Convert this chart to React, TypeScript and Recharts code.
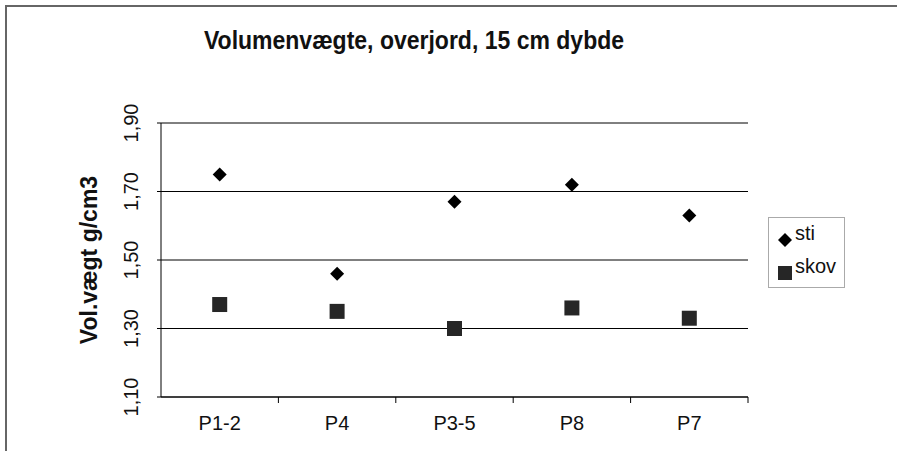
import { ComposedChart, Scatter, XAxis, YAxis, CartesianGrid } from "recharts";

const categories = ["P1-2", "P4", "P3-5", "P8", "P7"];
const stiValues = [1.75, 1.46, 1.67, 1.72, 1.63];
const skovValues = [1.37, 1.35, 1.3, 1.36, 1.33];
const yTicks = [1.1, 1.3, 1.5, 1.7, 1.9];

const data = categories.map((cat, i) => ({ cat, sti: stiValues[i], skov: skovValues[i] }));

const W = 897;
const H = 451;
const margin = { top: 123, right: 149, bottom: 0, left: 0 };
const Y_AXIS_W = 161;
const X_AXIS_H = 54;
const plotW = W - Y_AXIS_W - margin.right;
const step = plotW / categories.length;
const font = "'Liberation Sans', Arial, sans-serif";

const fmt = (v: number) => v.toFixed(2).replace(".", ",");

function Diamond(props: any) {
  const { cx, cy } = props;
  const r = 7;
  return <polygon points={`${cx},${cy - r} ${cx + r},${cy} ${cx},${cy + r} ${cx - r},${cy}`} fill="#000" />;
}

function Square(props: any) {
  const { cx, cy } = props;
  const s = 15;
  return <rect x={cx - s / 2} y={cy - s / 2} width={s} height={s} fill="#262626" />;
}

function YTick(props: any) {
  const { x, y, payload } = props;
  const bx = x - 19;
  return (
    <text x={bx} y={y} transform={`rotate(-90, ${bx}, ${y})`} textAnchor="middle" fontSize={20} fontFamily={font} fill="#111">
      {fmt(payload.value)}
    </text>
  );
}

function XTick(props: any) {
  const { x, payload } = props;
  const axisY = H - X_AXIS_H;
  return (
    <g>
      <text x={x} y={axisY + 33} textAnchor="middle" fontSize={20} fontFamily={font} fill="#111">
        {payload.value}
      </text>
      <line x1={x + step / 2} x2={x + step / 2} y1={axisY} y2={axisY + 6} stroke="#000" />
    </g>
  );
}

function LegendBox() {
  const row = { display: "flex", alignItems: "center", height: 33, fontSize: 20, fontFamily: font, color: "#111" } as const;
  return (
    <div style={{ position: "absolute", left: 768, top: 217, border: "1px solid #aaa", width: 77, height: 71, boxSizing: "border-box", padding: "1px 0 0 8px", background: "#fff" }}>
      <div style={row}>
        <svg width={16} height={16} style={{ marginTop: 8 }}>
          <polygon points="8,1 15,8 8,15 1,8" fill="#000" />
        </svg>
        <span style={{ marginLeft: 2, marginTop: -4 }}>sti</span>
      </div>
      <div style={row}>
        <svg width={16} height={16} style={{ marginTop: 8 }}>
          <rect x={1} y={1} width={14} height={14} fill="#262626" />
        </svg>
        <span style={{ marginLeft: 2, marginTop: -4 }}>skov</span>
      </div>
    </div>
  );
}

export default function App() {
  return (
    <div style={{ position: "absolute", left: 0, top: 0, width: W, height: H, background: "#fff", overflow: "hidden" }}>
      <div style={{ position: "absolute", left: 5, top: 5, width: W, height: H, borderTop: "2px solid #666", borderLeft: "2px solid #666" }} />
      <div style={{ position: "absolute", left: 0, top: 27, width: 828, textAlign: "center", fontFamily: font, fontWeight: "bold", fontSize: 23, color: "#111", transform: "scaleY(1.15)" }}>
        Volumenvægte, overjord, 15 cm dybde
      </div>
      <ComposedChart width={W} height={H} data={data} margin={margin} style={{ position: "absolute", left: 0, top: 0 }}>
        <CartesianGrid vertical={false} stroke="#000" strokeWidth={1} />
        <XAxis
          dataKey="cat"
          type="category"
          scale="band"
          height={X_AXIS_H}
          axisLine={{ stroke: "#000" }}
          tickLine={false}
          tick={<XTick />}
          interval={0}
        />
        <YAxis
          domain={[1.1, 1.9]}
          ticks={yTicks}
          width={Y_AXIS_W}
          axisLine={{ stroke: "#000" }}
          tickLine={{ stroke: "#000" }}
          tickSize={4}
          tickMargin={0}
          tick={<YTick />}
          label={{ value: "Vol.vægt g/cm3", angle: -90, position: "insideLeft", offset: 89, style: { fontFamily: font, fontWeight: "bold", fontSize: 23, fill: "#111", textAnchor: "middle" } }}
        />
        <YAxis yAxisId="r" orientation="right" width={0} domain={[1.1, 1.9]} ticks={yTicks} tick={false} tickLine={false} axisLine={{ stroke: "#000" }} />
        <Scatter name="sti" dataKey="sti" shape={<Diamond />} isAnimationActive={false} />
        <Scatter name="skov" dataKey="skov" shape={<Square />} isAnimationActive={false} />
      </ComposedChart>
      <LegendBox />
    </div>
  );
}
